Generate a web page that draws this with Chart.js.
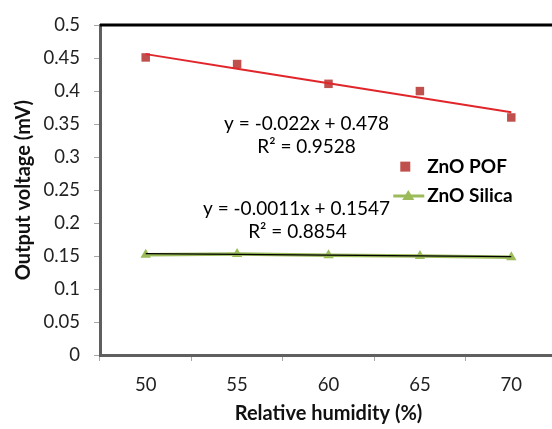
<!DOCTYPE html>
<html>
<head>
<meta charset="utf-8">
<script src="https://cdn.jsdelivr.net/npm/chart.js@4"></script>
<style>
  html, body { margin: 0; padding: 0; background: #fff; overflow: hidden; }
  #wrap { width: 560px; height: 429px; }
</style>
</head>
<body>
<div id="wrap"><canvas id="chart" width="560" height="429"></canvas></div>
<script>
var humidity = ['50', '55', '60', '65', '70'];
var pofValues = [0.451, 0.441, 0.411, 0.400, 0.360];
var silicaValues = [0.152, 0.153, 0.151, 0.150, 0.148];
var pofTrend = [0.456, 0.434, 0.412, 0.390, 0.368];
var silicaTrend = [0.1536, 0.1525, 0.1514, 0.1503, 0.1492];
var yTicks = [0, 0.05, 0.1, 0.15, 0.2, 0.25, 0.3, 0.35, 0.4, 0.45, 0.5];

var FONT = 'Lato, "Open Sans", sans-serif';

// equations and legend drawn inside the plot
var notesPlugin = {
  id: 'notes',
  beforeDatasetsDraw: function (chart) {
    var ctx = chart.ctx;
    var a = chart.chartArea;
    ctx.save();
    ctx.strokeStyle = '#000';
    ctx.lineWidth = 3;
    ctx.beginPath();
    ctx.moveTo(a.left, a.top);
    ctx.lineTo(a.right, a.top);
    ctx.stroke();
    ctx.restore();
  },
  afterDraw: function (chart) {
    var ctx = chart.ctx;
    var xs = chart.scales.x;
    var ys = chart.scales.y;
    ctx.save();
    ctx.fillStyle = '#000';
    ctx.textAlign = 'center';
    ctx.textBaseline = 'middle';
    ctx.font = '19px ' + FONT;
    ctx.fillText('y = -0.022x + 0.478', xs.getPixelForValue(1.76), ys.getPixelForValue(0.35));
    ctx.fillText('R\u00b2 = 0.9528', xs.getPixelForValue(1.76), ys.getPixelForValue(0.315));
    ctx.fillText('y = -0.0011x + 0.1547', xs.getPixelForValue(1.65), ys.getPixelForValue(0.222));
    ctx.fillText('R\u00b2 = 0.8854', xs.getPixelForValue(1.66), ys.getPixelForValue(0.186));

    // legend
    var lx = xs.getPixelForValue(2.84);
    var y1 = ys.getPixelForValue(0.2855);
    var y2 = ys.getPixelForValue(0.241);
    ctx.fillStyle = '#C0504D';
    ctx.fillRect(lx - 5, y1 - 5, 10, 10);
    ctx.strokeStyle = '#9BBB59';
    ctx.lineWidth = 3;
    ctx.beginPath();
    ctx.moveTo(lx - 12, y2);
    ctx.lineTo(lx + 19, y2);
    ctx.stroke();
    ctx.fillStyle = '#9BBB59';
    ctx.beginPath();
    ctx.moveTo(lx + 3, y2 - 6);
    ctx.lineTo(lx + 9, y2 + 4);
    ctx.lineTo(lx - 3, y2 + 4);
    ctx.closePath();
    ctx.fill();
    ctx.fillStyle = '#000';
    ctx.textAlign = 'left';
    ctx.font = 'bold 19px ' + FONT;
    ctx.fillText('ZnO POF', lx + 22, y1);
    ctx.fillText('ZnO Silica', lx + 22, y2);
    ctx.restore();
  }
};

new Chart(document.getElementById('chart'), {
  type: 'line',
  data: {
    labels: humidity,
    datasets: [
      {
        label: 'ZnO POF',
        data: pofValues,
        showLine: false,
        pointStyle: 'rect',
        pointRadius: 6,
        pointBackgroundColor: '#C0504D',
        pointBorderWidth: 0,
        order: 2
      },
      {
        label: 'POF trend',
        data: pofTrend,
        borderColor: '#E0262B',
        borderWidth: 2,
        pointRadius: 0,
        order: 1
      },
      {
        label: 'ZnO Silica',
        data: silicaValues,
        borderColor: '#9BBB59',
        borderWidth: 3.5,
        pointStyle: 'triangle',
        pointRadius: 6,
        pointBackgroundColor: '#9BBB59',
        pointBorderWidth: 0,
        order: 4
      },
      {
        label: 'Silica trend',
        data: silicaTrend,
        borderColor: '#000',
        borderWidth: 1.2,
        pointRadius: 0,
        order: 3
      }
    ]
  },
  options: {
    responsive: false,
    animation: false,
    layout: { autoPadding: false, padding: { top: 17, right: 3, left: 0, bottom: 0 } },
    plugins: { legend: { display: false }, tooltip: { enabled: false } },
    scales: {
      x: {
        type: 'category',
        offset: true,
        afterFit: function (scale) { scale.height = 74; },
        border: { color: '#5f5f5f', width: 3 },
        grid: { offset: true, drawOnChartArea: false, color: '#a6a6a6', tickLength: 6 },
        ticks: { color: '#222', padding: 13, font: { family: FONT, size: 18.5 } },
        title: {
          display: true,
          text: 'Relative humidity (%)',
          color: '#111',
          padding: { top: 0, bottom: 3 },
          font: { family: FONT, size: 20, weight: 'bold' }
        }
      },
      y: {
        min: 0,
        max: 0.5,
        afterFit: function (scale) { scale.width = 100; },
        afterBuildTicks: function (scale) {
          scale.ticks = yTicks.map(function (v) { return { value: v }; });
        },
        border: { color: '#5f5f5f', width: 3 },
        grid: { drawOnChartArea: false, color: '#a6a6a6', tickLength: 6 },
        ticks: {
          color: '#222',
          padding: 14,
          font: { family: FONT, size: 18.5 },
          callback: function (v) { return String(+v.toFixed(2)); }
        },
        title: {
          display: true,
          text: 'Output voltage (mV)',
          color: '#111',
          padding: { top: 12, bottom: 0 },
          font: { family: FONT, size: 20, weight: 'bold' }
        }
      }
    }
  },
  plugins: [notesPlugin]
});
</script>
</body>
</html>
